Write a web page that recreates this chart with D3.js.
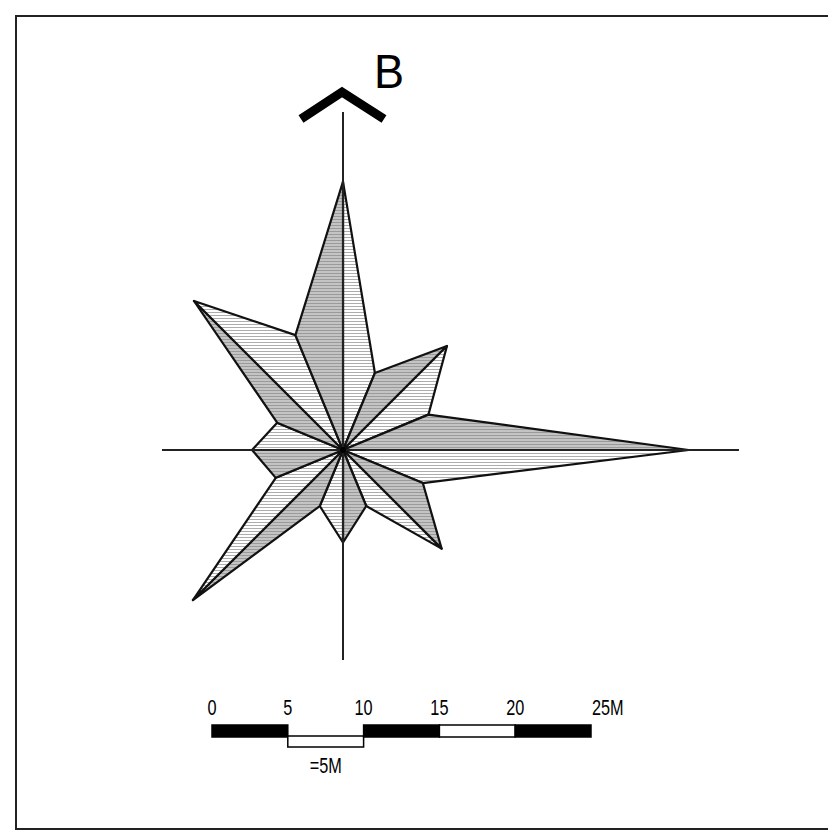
<!DOCTYPE html>
<html>
<head>
<meta charset="utf-8">
<script src="https://cdn.jsdelivr.net/npm/d3@7"></script>
<style>
  body { margin: 0; background: #fff; }
  text { font-family: "Liberation Sans", Arial, sans-serif; }
</style>
</head>
<body>
<svg id="chart" width="828" height="837"></svg>
<script>
// Wind rose data: 16 directions, lengths in metres
const directions = ["N", "NNE", "NE", "ENE", "E", "ESE", "SE", "SSE",
                    "S", "SSW", "SW", "WSW", "W", "WNW", "NW", "NNW"];
const lengths = [17.7, 5.5, 9.7, 6.1, 22.8, 5.7, 9.2, 4.0,
                 6.1, 4.0, 14.0, 4.8, 6.0, 4.7, 13.9, 8.2];

// Scale bar
const barTicks = [0, 5, 10, 15, 20, 25];
const barLabels = ["0", "5", "10", "15", "20", "25M"];
const barFill = ["black", "low", "black", "white", "black"];
const barNote = "=5M";
const title = "B";

const width = 828, height = 837;
const cx = 343, cy = 450;

const svg = d3.select("#chart");

// Same metres-to-pixels scale for rose and bar
const r = d3.scaleLinear().domain([0, 25]).range([0, 379]);
const angle = d3.scaleLinear().domain([0, directions.length]).range([0, 2 * Math.PI]);

function pt(i) {
    const k = i % directions.length;
    const a = angle(k);
    const len = r(lengths[k]);
    return [cx + len * Math.sin(a), cy - len * Math.cos(a)];
}

// Hatch patterns
const defs = svg.append("defs");
const pWhite = defs.append("pattern")
    .attr("id", "hatchWhite")
    .attr("patternUnits", "userSpaceOnUse")
    .attr("width", 6).attr("height", 3);
pWhite.append("rect").attr("width", 6).attr("height", 3).attr("fill", "#fff");
pWhite.append("rect").attr("y", 0).attr("width", 6).attr("height", 1).attr("fill", "#adadad");

const pGray = defs.append("pattern")
    .attr("id", "hatchGray")
    .attr("patternUnits", "userSpaceOnUse")
    .attr("width", 6).attr("height", 3);
pGray.append("rect").attr("width", 6).attr("height", 3).attr("fill", "#c4c4c4");
pGray.append("rect").attr("y", 0).attr("width", 6).attr("height", 1).attr("fill", "#9a9a9a");

// Frame
svg.append("rect")
    .attr("x", 16).attr("y", 16)
    .attr("width", 830).attr("height", 813)
    .attr("fill", "none")
    .attr("stroke", "#222")
    .attr("stroke-width", 2);

// Sectors
const sectors = d3.range(directions.length);
svg.append("g")
    .selectAll("path")
    .data(sectors)
    .join("path")
    .attr("d", i => d3.line()([[cx, cy], pt(i), pt(i + 1)]) + "Z")
    .attr("fill", i => i % 2 === 0 ? "url(#hatchWhite)" : "url(#hatchGray)")
    .attr("stroke", "#111")
    .attr("stroke-width", 2.2)
    .attr("stroke-linejoin", "round");

// Axes
svg.append("line")
    .attr("x1", cx).attr("y1", 112).attr("x2", cx).attr("y2", 660)
    .attr("stroke", "#222").attr("stroke-width", 2);
svg.append("line")
    .attr("x1", 162).attr("y1", cy).attr("x2", 739).attr("y2", cy)
    .attr("stroke", "#222").attr("stroke-width", 2);

// Centre dot
svg.append("circle").attr("cx", cx).attr("cy", cy).attr("r", 3).attr("fill", "#000");

// North chevron + title
svg.append("path")
    .attr("d", d3.line()([[301, 119], [342, 92], [384, 119]]))
    .attr("fill", "none")
    .attr("stroke", "#000")
    .attr("stroke-width", 9);

svg.append("text")
    .attr("transform", "translate(374,88) scale(0.92,1)")
    .style("font-size", "49px")
    .text(title);

// Scale bar
const bx = 212, by = 725, bh = 12;
const bar = svg.append("g");
const segs = d3.range(barFill.length);
bar.selectAll("rect")
    .data(segs)
    .join("rect")
    .attr("x", i => bx + r(barTicks[i]))
    .attr("y", i => barFill[i] === "low" ? by + bh - 1 : by)
    .attr("width", i => r(barTicks[i + 1]) - r(barTicks[i]))
    .attr("height", i => barFill[i] === "low" ? bh - 1 : bh)
    .attr("fill", i => barFill[i] === "black" ? "#000" : "#fff")
    .attr("stroke", "#000")
    .attr("stroke-width", 1.5);

const last = barTicks.length - 1;
bar.selectAll("text.tick")
    .data(barTicks)
    .join("text")
    .attr("class", "tick")
    .attr("transform", (d, i) => `translate(${i === last ? bx + r(d) + 1 : bx + r(d)},715) scale(0.74,1)`)
    .attr("text-anchor", (d, i) => i === last ? "start" : "middle")
    .style("font-size", "22px")
    .text((d, i) => barLabels[i]);

bar.append("text")
    .attr("transform", `translate(${bx + r(7.5)},773) scale(0.74,1)`)
    .attr("text-anchor", "middle")
    .style("font-size", "22px")
    .text(barNote);
</script>
</body>
</html>
